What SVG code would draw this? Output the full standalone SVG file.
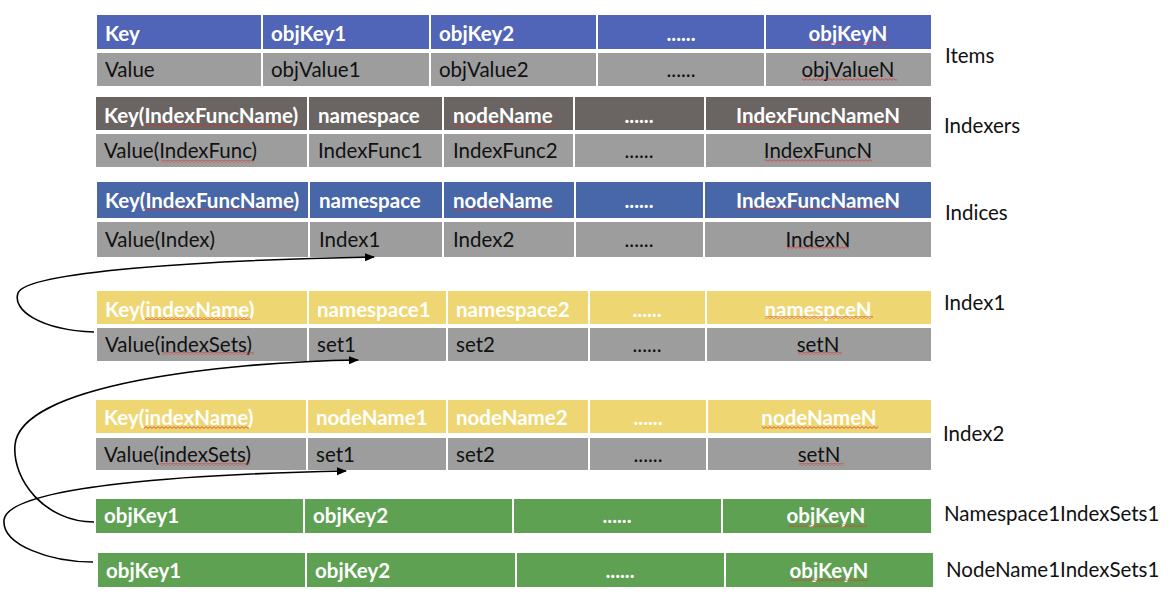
<svg xmlns="http://www.w3.org/2000/svg" width="1174" height="598" viewBox="0 0 1174 598">
<defs>
<style>
text{font-family:Lato,"Open Sans","Liberation Sans",sans-serif;font-size:20.5px}
.h{fill:#ffffff;font-weight:bold}
.v{fill:#111111}
.c{text-anchor:middle}
.lbl{fill:#111111;font-size:20.5px}
.b1{fill:#5064b8}
.b2{fill:#6a6462}
.b3{fill:#4767a8}
.gy{fill:#9d9d9d}
.ye{fill:#eed773}
.gr{fill:#5ea152}
.sq{fill:url(#squig)}
.con{fill:none;stroke:#000;stroke-width:1.6}
</style>
<pattern id="squig" x="0" y="0" width="4" height="3" patternUnits="userSpaceOnUse">
<path d="M0,2.4 L2,0.6 L4,2.4" fill="none" stroke="#d23a2f" stroke-width="0.8"/>
</pattern>
<marker id="arr" viewBox="0 0 10 10" refX="9" refY="5" markerWidth="10" markerHeight="10" markerUnits="userSpaceOnUse" orient="auto">
<path d="M0,1 L10,5 L0,9 z" fill="#000"/>
</marker>
</defs>
<rect width="1174" height="598" fill="#ffffff"/>

<g id="items">
<rect class="b1" x="97" y="15" width="164" height="34"/>
<rect class="b1" x="263" y="15" width="166" height="34"/>
<rect class="b1" x="431" y="15" width="165" height="34"/>
<rect class="b1" x="598" y="15" width="166" height="34"/>
<rect class="b1" x="766" y="15" width="165" height="34"/>
<rect class="gy" x="97" y="53" width="164" height="33"/>
<rect class="gy" x="263" y="53" width="166" height="33"/>
<rect class="gy" x="431" y="53" width="165" height="33"/>
<rect class="gy" x="598" y="53" width="166" height="33"/>
<rect class="gy" x="766" y="53" width="165" height="33"/>
<text class="h" x="105" y="41">Key</text>
<text class="h" x="271" y="41">objKey1</text>
<text class="h" x="439" y="41">objKey2</text>
<text class="h c" x="681" y="41">......</text>
<text class="h c" x="848" y="41">objKeyN</text>
<text class="v" x="105" y="77">Value</text>
<text class="v" x="271" y="77">objValue1</text>
<text class="v" x="439" y="77">objValue2</text>
<text class="v c" x="681" y="77">......</text>
<text class="v c" x="848" y="77">objValueN</text>
<rect class="sq" x="809" y="42" width="80" height="3"/>
<rect class="sq" x="802" y="78" width="95" height="3"/>
<text class="lbl" x="945" y="63">Items</text>
</g>

<g id="indexers">
<rect class="b2" x="96" y="97" width="211" height="33"/>
<rect class="b2" x="309" y="97" width="133" height="33"/>
<rect class="b2" x="444" y="97" width="129" height="33"/>
<rect class="b2" x="575" y="97" width="129" height="33"/>
<rect class="b2" x="706" y="97" width="225" height="33"/>
<rect class="gy" x="96" y="134" width="211" height="33"/>
<rect class="gy" x="309" y="134" width="133" height="33"/>
<rect class="gy" x="444" y="134" width="129" height="33"/>
<rect class="gy" x="575" y="134" width="129" height="33"/>
<rect class="gy" x="706" y="134" width="225" height="33"/>
<text class="h" x="104" y="123">Key(IndexFuncName)</text>
<text class="h" x="318" y="123">namespace</text>
<text class="h" x="453" y="123">nodeName</text>
<text class="h c" x="639" y="123">......</text>
<text class="h c" x="818" y="123">IndexFuncNameN</text>
<text class="v" x="104" y="158">Value(IndexFunc)</text>
<text class="v" x="318" y="158">IndexFunc1</text>
<text class="v" x="453" y="158">IndexFunc2</text>
<text class="v c" x="639" y="158">......</text>
<text class="v c" x="818" y="158">IndexFuncN</text>
<rect class="sq" x="143" y="124" width="150" height="3"/>
<rect class="sq" x="453" y="124" width="101" height="3"/>
<rect class="sq" x="737" y="123" width="163" height="3"/>
<rect class="sq" x="161" y="160" width="93" height="3"/>
<rect class="sq" x="765" y="159" width="107" height="3"/>
<text class="lbl" x="944" y="133">Indexers</text>
</g>

<g id="indices">
<rect class="b3" x="97" y="182" width="211" height="36"/>
<rect class="b3" x="310" y="182" width="132" height="36"/>
<rect class="b3" x="444" y="182" width="130" height="36"/>
<rect class="b3" x="576" y="182" width="127" height="36"/>
<rect class="b3" x="705" y="182" width="226" height="36"/>
<rect class="gy" x="97" y="222" width="211" height="35"/>
<rect class="gy" x="310" y="222" width="132" height="35"/>
<rect class="gy" x="444" y="222" width="130" height="35"/>
<rect class="gy" x="576" y="222" width="127" height="35"/>
<rect class="gy" x="705" y="222" width="226" height="35"/>
<text class="h" x="105" y="208">Key(IndexFuncName)</text>
<text class="h" x="319" y="208">namespace</text>
<text class="h" x="453" y="208">nodeName</text>
<text class="h c" x="639" y="208">......</text>
<text class="h c" x="818" y="208">IndexFuncNameN</text>
<text class="v" x="105" y="247">Value(Index)</text>
<text class="v" x="319" y="247">Index1</text>
<text class="v" x="453" y="247">Index2</text>
<text class="v c" x="639" y="247">......</text>
<text class="v c" x="818" y="247">IndexN</text>
<rect class="sq" x="143" y="208" width="151" height="3"/>
<rect class="sq" x="453" y="208" width="101" height="3"/>
<rect class="sq" x="737" y="207" width="163" height="3"/>
<rect class="sq" x="787" y="246" width="62" height="3"/>
<text class="lbl" x="945" y="220">Indices</text>
</g>

<g id="index1">
<rect class="ye" x="97" y="291" width="210" height="33"/>
<rect class="ye" x="309" y="291" width="137" height="33"/>
<rect class="ye" x="448" y="291" width="140" height="33"/>
<rect class="ye" x="590" y="291" width="115" height="33"/>
<rect class="ye" x="707" y="291" width="224" height="33"/>
<rect class="gy" x="97" y="328" width="210" height="33"/>
<rect class="gy" x="309" y="328" width="137" height="33"/>
<rect class="gy" x="448" y="328" width="140" height="33"/>
<rect class="gy" x="590" y="328" width="115" height="33"/>
<rect class="gy" x="707" y="328" width="224" height="33"/>
<text class="h" x="105" y="317">Key(indexName)</text>
<text class="h" x="317" y="317">namespace1</text>
<text class="h" x="456" y="317">namespace2</text>
<text class="h c" x="647" y="317">......</text>
<text class="h c" x="818" y="317">namespceN</text>
<text class="v" x="105" y="352">Value(indexSets)</text>
<text class="v" x="317" y="352">set1</text>
<text class="v" x="456" y="352">set2</text>
<text class="v c" x="647" y="352">......</text>
<text class="v c" x="818" y="352">setN</text>
<rect class="sq" x="145" y="317" width="106" height="3"/>
<rect class="sq" x="765" y="316" width="108" height="3"/>
<rect class="sq" x="162" y="352" width="92" height="3"/>
<rect class="sq" x="798" y="352" width="44" height="3"/>
<text class="lbl" x="944" y="310">Index1</text>
</g>

<g id="index2">
<rect class="ye" x="96" y="400" width="210" height="33"/>
<rect class="ye" x="308" y="400" width="138" height="33"/>
<rect class="ye" x="448" y="400" width="140" height="33"/>
<rect class="ye" x="590" y="400" width="116" height="33"/>
<rect class="ye" x="708" y="400" width="223" height="33"/>
<rect class="gy" x="96" y="438" width="210" height="32"/>
<rect class="gy" x="308" y="438" width="138" height="32"/>
<rect class="gy" x="448" y="438" width="140" height="32"/>
<rect class="gy" x="590" y="438" width="116" height="32"/>
<rect class="gy" x="708" y="438" width="223" height="32"/>
<text class="h" x="104" y="425">Key(indexName)</text>
<text class="h" x="316" y="425">nodeName1</text>
<text class="h" x="456" y="425">nodeName2</text>
<text class="h c" x="648" y="425">......</text>
<text class="h c" x="819" y="425">nodeNameN</text>
<text class="v" x="104" y="462">Value(indexSets)</text>
<text class="v" x="316" y="462">set1</text>
<text class="v" x="456" y="462">set2</text>
<text class="v c" x="648" y="462">......</text>
<text class="v c" x="819" y="462">setN</text>
<rect class="sq" x="144" y="426" width="105" height="3"/>
<rect class="sq" x="762" y="426" width="116" height="3"/>
<rect class="sq" x="160" y="463" width="90" height="3"/>
<rect class="sq" x="799" y="463" width="45" height="3"/>
<text class="lbl" x="943" y="441">Index2</text>
</g>

<g id="namespace1IndexSets1">
<rect class="gr" x="96" y="499" width="207" height="34"/>
<rect class="gr" x="305" y="499" width="207" height="34"/>
<rect class="gr" x="514" y="499" width="207" height="34"/>
<rect class="gr" x="723" y="499" width="208" height="34"/>
<text class="h" x="104" y="523">objKey1</text>
<text class="h" x="313" y="523">objKey2</text>
<text class="h c" x="617" y="523">......</text>
<text class="h c" x="826" y="523">objKeyN</text>
<rect class="sq" x="788" y="524" width="79" height="3"/>
<text class="lbl" x="944" y="521">Namespace1IndexSets1</text>
</g>

<g id="nodeName1IndexSets1">
<rect class="gr" x="98" y="553" width="207" height="34"/>
<rect class="gr" x="307" y="553" width="208" height="34"/>
<rect class="gr" x="517" y="553" width="207" height="34"/>
<rect class="gr" x="726" y="553" width="207" height="34"/>
<text class="h" x="106" y="578">objKey1</text>
<text class="h" x="315" y="578">objKey2</text>
<text class="h c" x="620" y="578">......</text>
<text class="h c" x="829" y="578">objKeyN</text>
<rect class="sq" x="791" y="578" width="78" height="3"/>
<text class="lbl" x="946" y="577">NodeName1IndexSets1</text>
</g>

<g id="connectors">
<path class="con" marker-end="url(#arr)" d="M94,332 C40,330 12,310 18,293 C26,272 200,260 374,257"/>
<path class="con" marker-end="url(#arr)" d="M94,522 C45,522 12,480 15,445 C20,385 220,362 358,360"/>
<path class="con" marker-end="url(#arr)" d="M93,562 C50,562 2,545 4,520 C8,485 200,474 346,471"/>
</g>
</svg>
